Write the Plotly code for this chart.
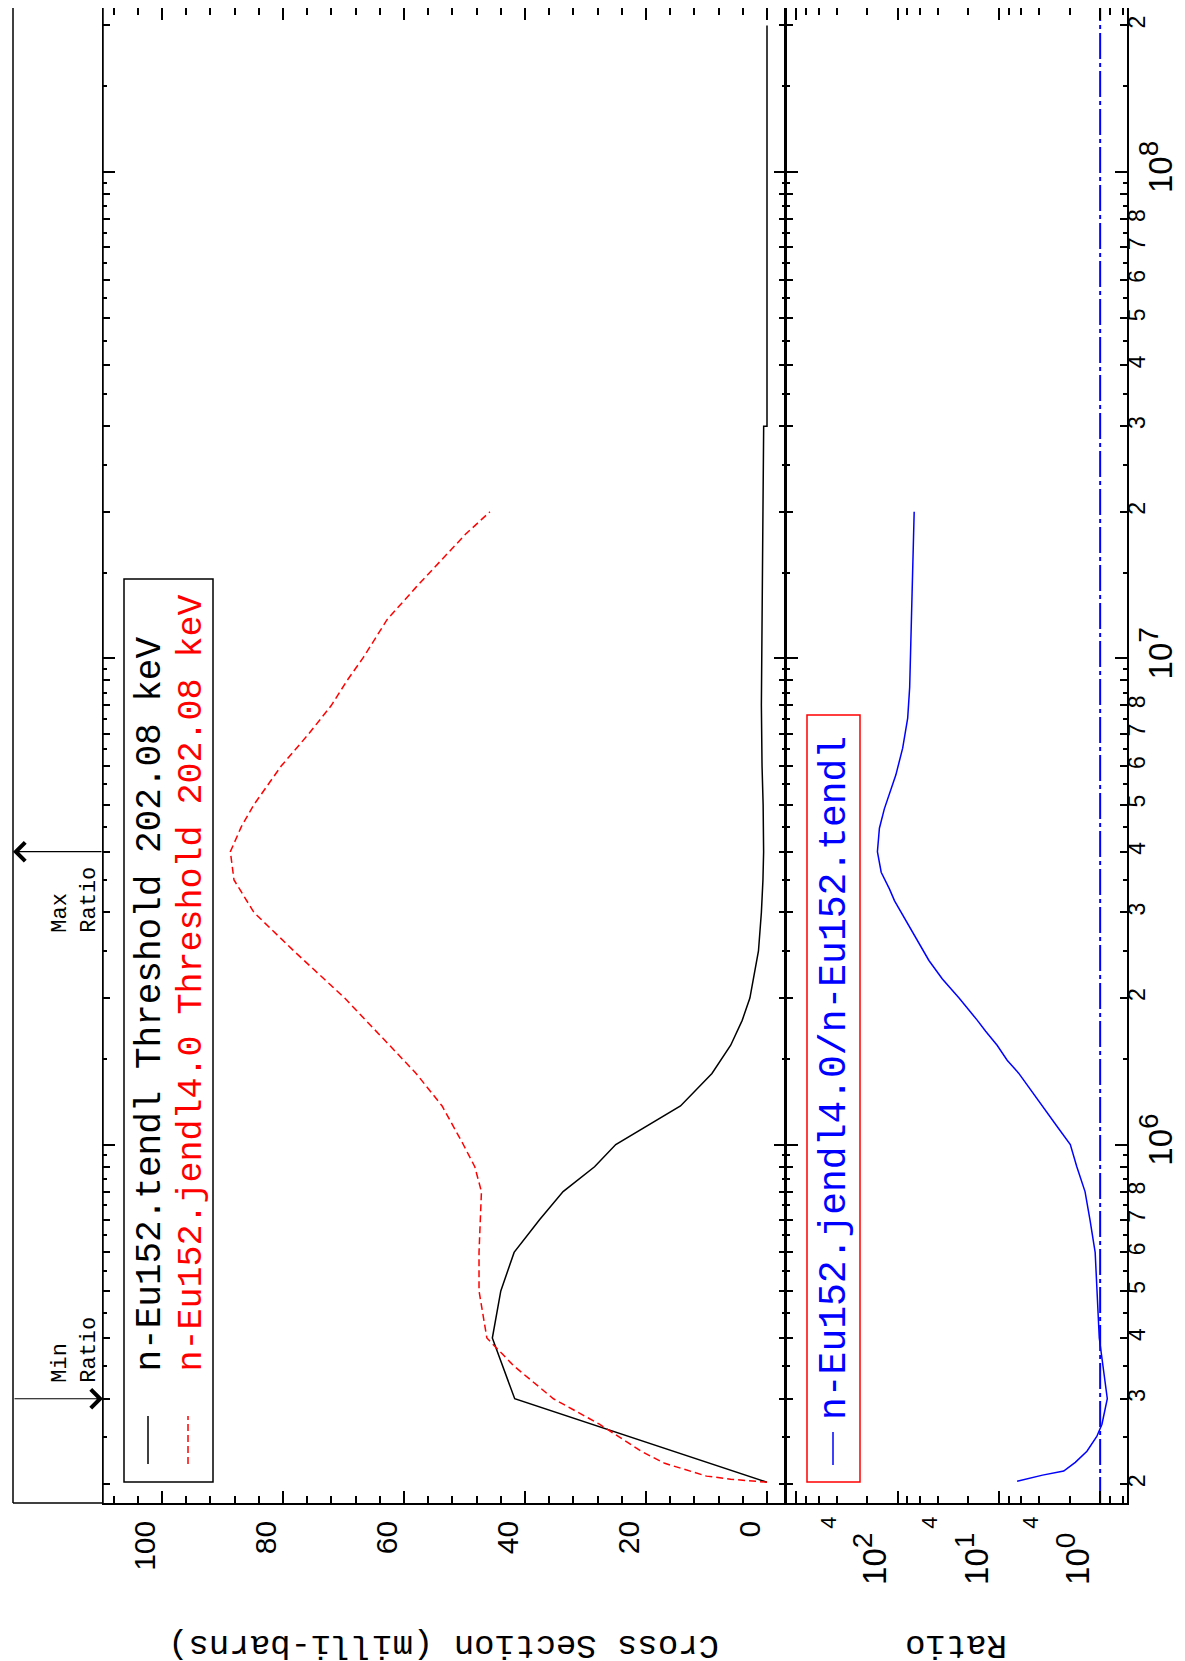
import math
import plotly.graph_objects as go

W, H = 1185, 1661

# ---------------- data ----------------
tendl_energy = [2.0208e5, 3e5, 4e5, 5e5, 6e5, 7e5, 8e5, 9e5, 1e6, 1.2e6, 1.4e6, 1.6e6,
                1.8e6, 2e6, 2.5e6, 3e6, 3.5e6, 4e6, 5e6, 6e6, 8e6, 1e7, 1.5e7, 2e7,
                3e7, 3e7, 5e7, 1e8, 2e8]
tendl_xs = [0.0, 41.7, 45.4, 44.0, 41.8, 37.6, 33.7, 28.5, 25.0, 14.3, 9.1, 6.0,
            4.1, 2.83, 1.41, 0.93, 0.67, 0.56, 0.64, 0.82, 0.93, 0.89, 0.79, 0.67,
            0.55, 0.0, 0.0, 0.0, 0.0]

jendl_energy = [2.0208e5, 2.05e5, 2.08e5, 2.13e5, 2.21e5, 2.34e5, 2.51e5, 2.66e5, 3e5,
                3.5e5, 4e5, 5e5, 6e5, 7e5, 8e5, 9e5, 1e6, 1.2e6, 1.4e6, 1.6e6, 1.8e6,
                2e6, 2.5e6, 3e6, 3.5e6, 4e6, 4.5e6, 5e6, 6e6, 7e6, 8e6, 9e6, 1e7,
                1.2e7, 1.4e7, 1.6e7, 1.8e7, 2e7]
jendl_xs = [0.0, 6.0, 10.0, 12.6, 16.9, 20.8, 24.7, 27.7, 35.3,
            41.8, 46.3, 47.6, 47.6, 47.4, 47.2, 48.3, 50.2, 53.7, 58.0, 62.4, 66.3,
            69.8, 78.2, 84.8, 88.1, 88.7, 86.9, 84.8, 80.3, 75.7, 72.0, 69.4, 66.8,
            62.8, 58.0, 53.7, 49.8, 45.8]

ratio_energy = [2.03e5, 2.05e5, 2.09e5, 2.13e5, 2.22e5, 2.34e5, 2.51e5, 2.66e5, 3.0e5,
                4.0e5, 5.0e5, 6.0e5, 7.0e5, 8.0e5, 9.0e5, 1.0e6, 1.09e6, 1.2e6, 1.3e6,
                1.4e6, 1.49e6, 1.6e6, 1.71e6, 1.8e6, 2.0e6, 2.19e6, 2.39e6, 2.62e6,
                2.92e6, 3.17e6, 3.35e6, 3.63e6, 4.0e6, 4.47e6, 4.9e6, 5.26e6, 5.75e6,
                6.53e6, 7.14e6, 7.53e6, 8.71e6, 1.25e7, 1.5e7, 2.0e7]
ratio_values = [6.6, 5.5, 3.7, 2.29, 1.76, 1.35, 1.08, 0.96, 0.85,
                1.02, 1.08, 1.12, 1.26, 1.41, 1.70, 1.97, 2.67, 3.75, 4.89,
                6.35, 8.28, 10.4, 13.5, 16.3, 24.7, 36.1, 49.0, 63.5,
                85.9, 107, 120, 145, 158, 151, 135, 120, 104,
                89, 82.8, 79.4, 75.9, 72.4, 70.1, 68.5]

tendl_label = "n-Eu152.tendl Threshold 202.08 keV"
jendl_label = "n-Eu152.jendl4.0 Threshold 202.08 keV"
ratio_label = "n-Eu152.jendl4.0/n-Eu152.tendl"

# ticks
xs_tick_vals = [0, 20, 40, 60, 80, 100]
xs_tick_text = ["0", "20", "40", "60", "80", "100"]
xs_minor_vals = [4, 8, 12, 16, 24, 28, 32, 36, 44, 48, 52, 56, 64, 68, 72, 76,
                 84, 88, 92, 96, 104, 108]

ratio_decades = [1, 10, 100, 1000]
ratio_label_decades = [1, 10, 100]
ratio_decade_exp = ["0", "1", "2"]
ratio_minor_vals = [0.6, 0.8, 2, 4, 6, 8, 20, 40, 60, 80, 200, 400, 600, 800]
ratio_label_vals = [4, 40, 400]
ratio_label_text = ["4", "4", "4"]

energy_decades = [1e6, 1e7, 1e8]
energy_decade_exp = ["6", "7", "8"]
mantissas = [2, 3, 4, 5, 6, 7, 8, 9]
labelled_mantissas = [2, 3, 4, 5, 6, 7, 8]
half_mantissas = [1.5, 2.5, 3.5, 4.5, 5.5, 6.5, 7.5, 8.5, 9.5]

# axis ranges (log10 for log axes)
LOGE = [5.2628, 8.3370]
XS_RANGE = [109.75, -3.14]
RATIO_RANGE = [3.101, -0.265]


def in_range(v):
    return LOGE[0] <= math.log10(v) <= LOGE[1]


energy_int_vals = [m * 10 ** n for n in (5, 6, 7, 8) for m in mantissas if in_range(m * 10 ** n)]
energy_lab_vals = [m * 10 ** n for n in (5, 6, 7, 8) for m in labelled_mantissas
                   if in_range(m * 10 ** n)]
energy_lab_text = [str(int(round(v / 10 ** math.floor(math.log10(v))))) for v in energy_lab_vals]
energy_half_vals = [m * 10 ** n for n in (5, 6, 7, 8) for m in half_mantissas if in_range(m * 10 ** n)]


def pow_label(e, size):
    return "10<sup><span style='font-size:%dpx'>%s</span></sup>" % (size, e)


def px(x):
    return x / W


def py(y):
    return 1 - y / H


XR = 1119
X_MAIN = [px(95), px(778)]
X_RAT = [px(778), px(XR)]
Y_DOM = [py(1495), 1.0]

BLK = "black"
LW = 1.5
SANS = "Liberation Sans"
MONO = "Liberation Mono"

fig = go.Figure()
fig.add_trace(go.Scatter(x=tendl_xs, y=tendl_energy, mode="lines",
                         line=dict(color="black", width=1.5), xaxis="x", yaxis="y",
                         name=tendl_label))
fig.add_trace(go.Scatter(x=jendl_xs, y=jendl_energy, mode="lines",
                         line=dict(color="#ff0000", width=1.5, dash="7px,4px"),
                         xaxis="x", yaxis="y", name=jendl_label))
fig.add_trace(go.Scatter(x=ratio_values, y=ratio_energy, mode="lines",
                         line=dict(color="#0000ff", width=1.5), xaxis="x2", yaxis="y2",
                         name=ratio_label))
# unity reference line across the whole energy range
fig.add_trace(go.Scatter(x=[1, 1], y=[10 ** LOGE[0], 10 ** LOGE[1]], mode="lines",
                         line=dict(color="#0000ff", width=2, dash="26px,4px,4px,4px"),
                         xaxis="x2", yaxis="y2"))
# empty traces so the overlay tick axes get drawn
for xa, ya in [("x3", "y"), ("x4", "y2"), ("x5", "y2"), ("x6", "y2"), ("x", "y3"),
               ("x2", "y4"), ("x2", "y5"), ("x2", "y6")]:
    fig.add_trace(go.Scatter(x=[], y=[], xaxis=xa, yaxis=ya, hoverinfo="skip"))

common = dict(showgrid=False, zeroline=False, linecolor=BLK, linewidth=LW,
              tickcolor=BLK, tickwidth=LW, ticks="inside")


def minor(vals, ln):
    return dict(tickmode="array", tickvals=vals, ticks="inside", ticklen=ln,
                tickwidth=LW, tickcolor=BLK)


layout = dict(
    width=W, height=H, margin=dict(l=0, r=0, t=0, b=0),
    paper_bgcolor="white", plot_bgcolor="white", showlegend=False,
    # cross section axis (bottom, labelled) + mirrored top ticks
    xaxis=dict(domain=X_MAIN, range=XS_RANGE, anchor="y", showline=True, mirror=False,
               tickmode="array", tickvals=xs_tick_vals, ticktext=xs_tick_text, ticklen=12,
               minor=minor(xs_minor_vals, 7), tickangle=-90,
               tickfont=dict(family=SANS, size=30, color=BLK),
               ticklabelstandoff=4, ticklabelshift=17, **common),
    xaxis3=dict(overlaying="x", side="top", range=XS_RANGE, anchor="y", showline=False,
                tickmode="array", tickvals=xs_tick_vals, ticklen=12, showticklabels=False,
                minor=minor(xs_minor_vals, 7), **common),
    # ratio axis: ticks, "4" labels, decade labels, top ticks
    xaxis2=dict(domain=X_RAT, type="log", range=RATIO_RANGE, anchor="y2", showline=True,
                mirror=False, tickmode="array", tickvals=ratio_decades, ticklen=12,
                showticklabels=False, minor=minor(ratio_minor_vals, 7), **common),
    xaxis4=dict(overlaying="x2", side="bottom", type="log", range=RATIO_RANGE, anchor="y2",
                showline=False, tickmode="array", tickvals=ratio_label_vals,
                ticktext=ratio_label_text, ticklen=7, tickangle=-90,
                tickfont=dict(family=SANS, size=22, color=BLK),
                ticklabelstandoff=8, ticklabelshift=8, **common),
    xaxis6=dict(overlaying="x2", side="bottom", type="log", range=RATIO_RANGE, anchor="y2",
                showline=False, tickmode="array", tickvals=ratio_label_decades,
                ticktext=[pow_label(e, 28) for e in ratio_decade_exp], ticklen=12,
                tickangle=-90, tickfont=dict(family=SANS, size=33, color=BLK),
                ticklabelstandoff=22, ticklabelshift=22, **common),
    xaxis5=dict(overlaying="x2", side="top", type="log", range=RATIO_RANGE, anchor="y2",
                showline=False, tickmode="array", tickvals=ratio_decades, ticklen=12,
                showticklabels=False, minor=minor(ratio_minor_vals, 7), **common),
    # energy axis, main panel: ticks at the left edge and at the panel boundary
    yaxis=dict(domain=Y_DOM, type="log", range=LOGE, anchor="x", side="left",
               showline=False, mirror="ticks", tickmode="array", tickvals=energy_decades,
               ticklen=12, showticklabels=False, minor=minor(energy_int_vals, 7), **common),
    yaxis3=dict(overlaying="y", side="left", type="log", range=LOGE, anchor="x",
                showline=True, mirror="ticks", tickmode="array", tickvals=energy_half_vals,
                ticklen=4, showticklabels=False, **dict(common, linewidth=0.01)),
    # energy axis, ratio panel (right edge, labelled; mirrored line = panel boundary)
    yaxis2=dict(domain=Y_DOM, type="log", range=LOGE, anchor="x2", side="right",
                showline=True, mirror="ticks", tickmode="array", tickvals=energy_decades,
                ticklen=12, showticklabels=False, minor=minor(energy_int_vals, 7), **common),
    yaxis4=dict(overlaying="y2", side="right", type="log", range=LOGE, anchor="x2",
                showline=False, tickmode="array", tickvals=energy_lab_vals,
                ticktext=energy_lab_text, ticklen=7, tickangle=-90,
                tickfont=dict(family=SANS, size=23, color=BLK), ticklabelstandoff=-6, **common),
    yaxis6=dict(overlaying="y2", side="right", type="log", range=LOGE, anchor="x2",
                showline=False, tickmode="array", tickvals=energy_decades,
                ticktext=[pow_label(e, 28) for e in energy_decade_exp], ticklen=12,
                tickangle=-90, tickfont=dict(family=SANS, size=33, color=BLK),
                ticklabelstandoff=11, **common),
    yaxis5=dict(overlaying="y2", side="right", type="log", range=LOGE, anchor="x2",
                showline=False, mirror="ticks", tickmode="array", tickvals=energy_half_vals,
                ticklen=4, showticklabels=False, **common),
)
fig.update_layout(**layout)

shapes = []
# outer strip holding the min/max ratio markers, and the left edge of the main panel
shapes.append(dict(type="line", xref="paper", yref="paper", x0=px(5), x1=px(5),
                   y0=py(1495), y1=1.0, line=dict(color=BLK, width=LW)))
shapes.append(dict(type="line", xref="paper", yref="paper", x0=px(5), x1=px(95),
                   y0=py(1495), y1=py(1495), line=dict(color=BLK, width=LW)))
shapes.append(dict(type="line", xref="paper", yref="paper", x0=px(95), x1=px(95),
                   y0=py(1495), y1=1.0, line=dict(color=BLK, width=LW)))
# legend boxes
shapes.append(dict(type="rect", xref="paper", yref="paper", x0=px(116), x1=px(205),
                   y0=py(1474), y1=py(571), line=dict(color=BLK, width=LW)))
shapes.append(dict(type="rect", xref="paper", yref="paper", x0=px(799), x1=px(852),
                   y0=py(1474), y1=py(707), line=dict(color="#ff0000", width=LW)))
# legend samples
shapes.append(dict(type="line", xref="paper", yref="paper", x0=px(140), x1=px(140),
                   y0=py(1456), y1=py(1408), line=dict(color="black", width=1.5)))
shapes.append(dict(type="line", xref="paper", yref="paper", x0=px(180), x1=px(180),
                   y0=py(1456), y1=py(1408), line=dict(color="#ff0000", width=1.5, dash="7px,4px")))
shapes.append(dict(type="line", xref="paper", yref="paper", x0=px(825), x1=px(825),
                   y0=py(1457), y1=py(1424), line=dict(color="#0000ff", width=1.5)))
fig.update_layout(shapes=shapes)

i_min = min(range(len(ratio_values)), key=lambda i: ratio_values[i])
i_max = max(range(len(ratio_values)), key=lambda i: ratio_values[i])
e_min = ratio_energy[i_min]
e_max = ratio_energy[i_max]

ann = []
ann.append(dict(text=tendl_label, textangle=-90, xref="paper", yref="paper",
                x=px(142), y=py(1366), xanchor="center", yanchor="bottom", showarrow=False,
                font=dict(family=MONO, size=36, color="black")))
ann.append(dict(text=jendl_label, textangle=-90, xref="paper", yref="paper",
                x=px(183), y=py(1366), xanchor="center", yanchor="bottom", showarrow=False,
                font=dict(family=MONO, size=35, color="#ff0000")))
ann.append(dict(text=ratio_label, textangle=-90, xref="paper", yref="paper",
                x=px(826), y=py(1414), xanchor="center", yanchor="bottom", showarrow=False,
                font=dict(family=MONO, size=38, color="#0000ff")))
ann.append(dict(text="Cross Section (milli-barns)", textangle=180, xref="paper", yref="paper",
                x=px(436), y=py(1637), xanchor="center", yanchor="middle", showarrow=False,
                font=dict(family=MONO, size=34, color="black")))
ann.append(dict(text="Ratio", textangle=180, xref="paper", yref="paper",
                x=px(948), y=py(1637), xanchor="center", yanchor="middle", showarrow=False,
                font=dict(family=MONO, size=34, color="black")))
# min / max ratio markers
ann.append(dict(text="", xref="paper", yref="y", x=px(95), y=math.log10(e_min),
                ax=-90, ay=0, showarrow=True, arrowhead=4, arrowsize=3, arrowwidth=1.2,
                arrowcolor=BLK))
ann.append(dict(text="", xref="paper", yref="y", x=px(5), y=math.log10(e_max),
                ax=90, ay=0, showarrow=True, arrowhead=4, arrowsize=3, arrowwidth=1.2,
                arrowcolor=BLK))
ann.append(dict(text="Min<br>Ratio", textangle=-90, align="left", xref="paper", yref="y",
                x=px(67), y=math.log10(e_min), yshift=14, xanchor="center", yanchor="bottom",
                showarrow=False, font=dict(family=MONO, size=22, color=BLK)))
ann.append(dict(text="Max<br>Ratio", textangle=-90, align="left", xref="paper", yref="y",
                x=px(67), y=math.log10(e_max), yshift=-83, xanchor="center", yanchor="bottom",
                showarrow=False, font=dict(family=MONO, size=22, color=BLK)))
fig.update_layout(annotations=ann)

fig.write_html("out.html")
